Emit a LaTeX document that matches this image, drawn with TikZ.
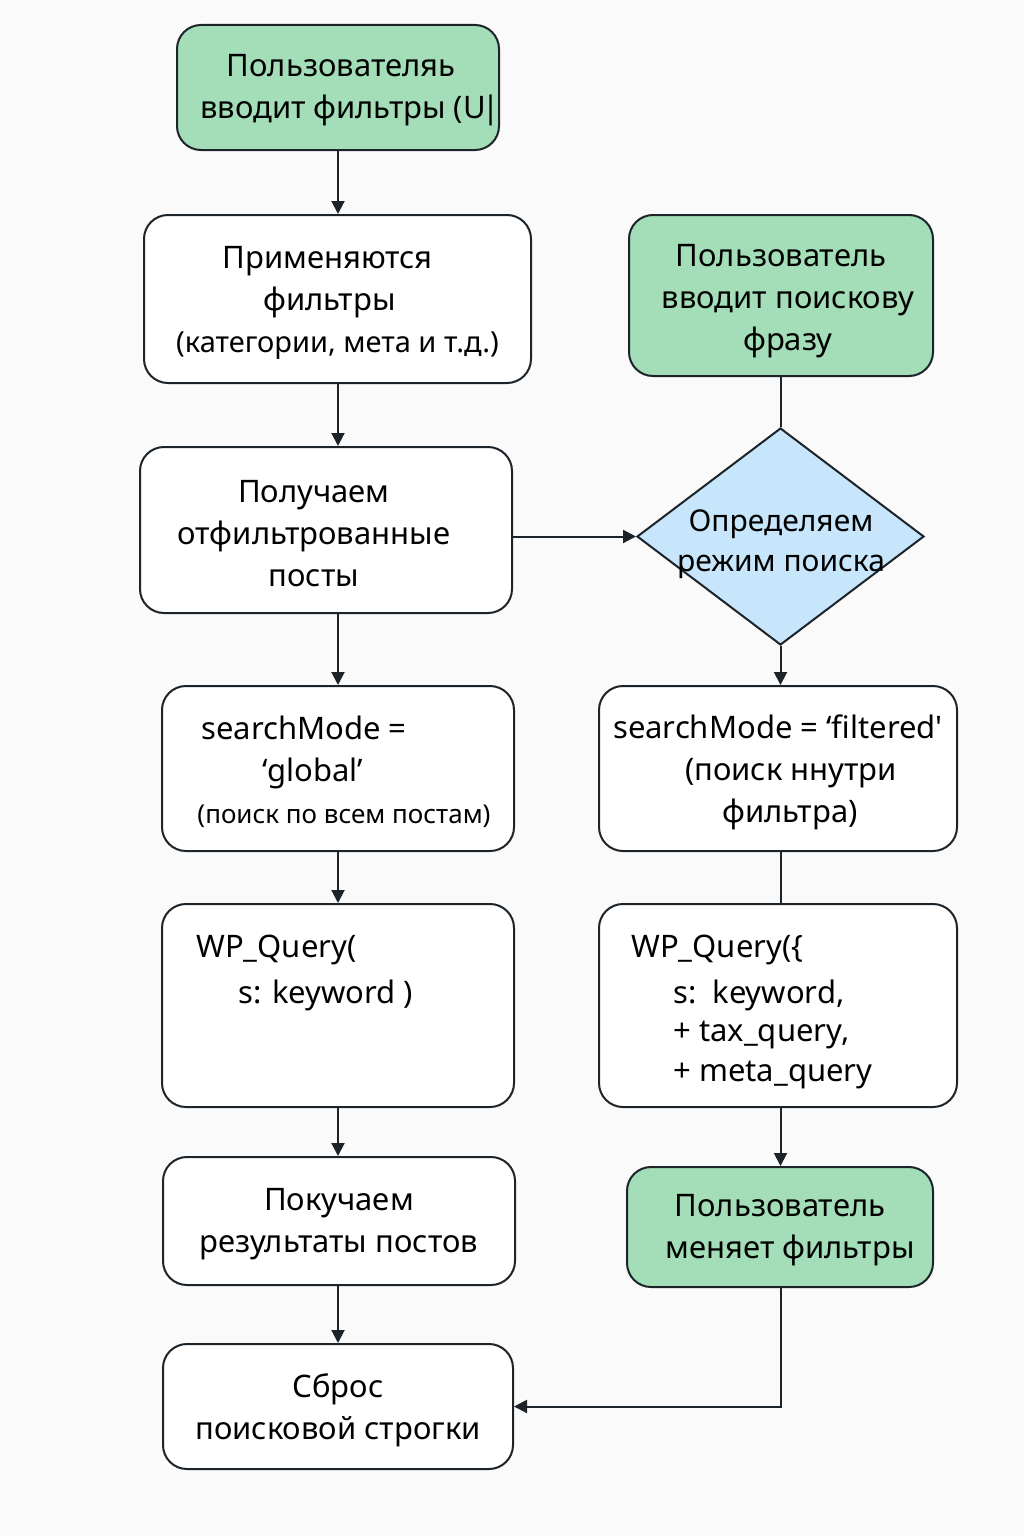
\documentclass[tikz,border=0pt]{standalone}
\usepackage{fontspec}
\setmainfont{Noto Sans}
\usetikzlibrary{shapes.geometric,arrows.meta}
\definecolor{bg}{HTML}{FAFAFA}
\definecolor{ln}{HTML}{1C2329}
\definecolor{grn}{HTML}{A3DEB9}
\definecolor{blu}{HTML}{C7E5FB}
\begin{document}
\begin{tikzpicture}[x=0.5pt,y=-0.5pt,
  box/.style={draw=ln, line width=1pt, rounded corners=12pt, inner sep=0pt},
  gbox/.style={box, fill=grn},
  wbox/.style={box, fill=white},
  txt/.style={inner sep=0pt, align=center, text=black, yshift=-1.8pt,
    font=\fontsize{15.5}{21}\selectfont},
  lbl/.style={inner sep=0pt, text=black, font=\fontsize{15.5}{21}\selectfont},
  arr/.style={draw=ln, line width=1pt, -{Triangle[length=6.5pt,width=6.5pt]}},
  con/.style={draw=ln, line width=1pt}]
\fill[bg] (0,0) rectangle (1024,1536);
\useasboundingbox (0,0) rectangle (1024,1536);

% left column
\node[gbox, minimum width=161pt, minimum height=62.5pt,
  label={[txt, name=t1, yshift=0.5pt, xshift=1.5pt]center:{Пользователяь\\\kern 9pt вводит фильтры (U\kern-1.5pt|}}] (b1) at (338,87.5) {};
\node[wbox, minimum width=193.5pt, minimum height=84pt,
  label={[txt, name=t2]center:{Применяются\kern 10pt\\фильтры\kern 8pt\\{\fontsize{14.5}{21}\selectfont(категории, мета и т.д.)}}}] (b2) at (337.5,299) {};
\node[wbox, minimum width=186pt, minimum height=83pt,
  label={[txt, name=t3, xshift=-6pt]center:{Получаем\\отфильтрованные\\посты}}] (b3) at (326,530) {};
\node[wbox, minimum width=176pt, minimum height=82.5pt,
  label={[txt, name=t4]center:{searchMode =\kern 34pt\\‘global’\kern 25pt\\\kern 6pt{\fontsize{13}{21}\selectfont(поиск по всем постам)}}}] (b4) at (338,768.5) {};
\node[wbox, minimum width=176pt, minimum height=101.5pt] (b5) at (338,1005.5) {};
\node[lbl, anchor=west] (t5a) at (196,950) {WP\_Query(};
\node[lbl, anchor=west] (t5b) at (238,995) {s: keyword )};
\node[wbox, minimum width=176pt, minimum height=64pt,
  label={[txt, name=t6]center:{Покучаем\\результаты постов}}] (b6) at (339,1221) {};
\node[wbox, minimum width=175pt, minimum height=62.5pt,
  label={[txt, name=t7]center:{Сброс\\поисковой строгки}}] (b7) at (338,1406.5) {};

% right column
\node[gbox, minimum width=152pt, minimum height=80.5pt,
  label={[txt, name=s1, yshift=-1pt]center:{Пользователь\\\kern 7pt вводит поискову\\\kern 7pt фразу}}] (r1) at (781,295.5) {};
\node[diamond, draw=ln, line width=1pt, fill=blu, inner sep=0pt,
  minimum width=143.5pt, minimum height=108.5pt] (d) at (780.5,536.5) {};
\node[lbl, align=center, font=\fontsize{15}{20}\selectfont] (dt) at (781,544)
  {Определяем\\режим поиска};
\node[wbox, minimum width=179pt, minimum height=82.5pt,
  label={[txt, name=s2]center:{searchMode = ‘filtered\textquotesingle\\\kern 13pt(поиск ннутри\\\kern 12pt фильтра)}}] (r2) at (778,768.5) {};
\node[wbox, minimum width=179pt, minimum height=101.5pt] (r3) at (778,1005.5) {};
\node[lbl, anchor=west] (t3a) at (631,950) {WP\_Query(\{};
\node[lbl, anchor=west] (t3b) at (673,995) {s:\, keyword,};
\node[lbl, anchor=west] (t3c) at (673,1035) {+ tax\_query,};
\node[lbl, anchor=west] (t3d) at (673,1075) {+ meta\_query};
\node[gbox, minimum width=153pt, minimum height=60pt,
  label={[txt, name=s4]center:{Пользователь\\\kern 10pt меняет фильтры}}] (r4) at (780,1227) {};

% connectors
\draw[arr] (b1.south) -- (b1.south |- b2.north);
\draw[arr] (b2.south -| b1.south) -- (b1.south |- b3.north);
\draw[arr] (b3.east |- d.west) -- (d.west);
\draw[arr] (b3.south -| b1.south) -- (b1.south |- b4.north);
\draw[arr] (b4.south -| b1.south) -- (b1.south |- b5.north);
\draw[arr] (b5.south -| b1.south) -- (b1.south |- b6.north);
\draw[arr] (b6.south -| b1.south) -- (b1.south |- b7.north);
\draw[con] (r1.south -| d.north) -- (d.north);
\draw[arr] (d.south) -- (d.south |- r2.north);
\draw[con] (r2.south -| d.south) -- (d.south |- r3.north);
\draw[arr] (r3.south -| d.south) -- (d.south |- r4.north);
\draw[arr] (r4.south -| d.south) -- (d.south |- b7.east) -- (b7.east);
\end{tikzpicture}
\end{document}
